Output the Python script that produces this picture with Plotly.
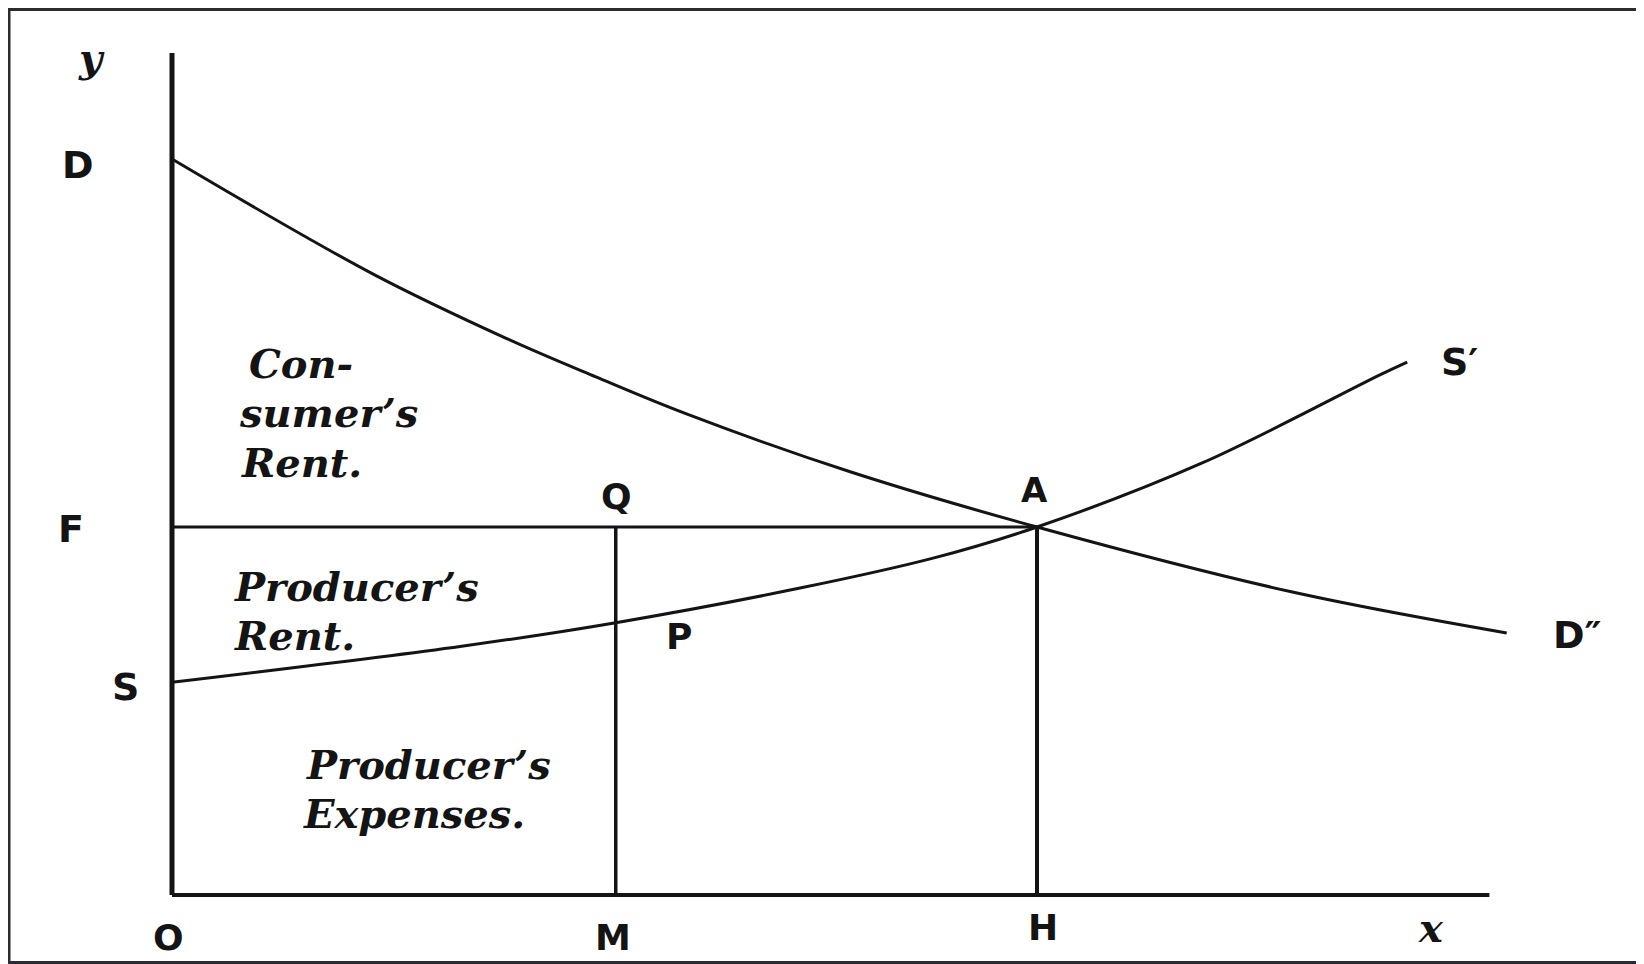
import plotly.graph_objects as go

# ---- data (quantity on x, price on y) ----
# Demand curve D ... D''
demand_q = [0.0, 2.32, 3.87, 4.90, 5.94, 7.84, 10.0, 12.94, 15.43]
demand_p = [10.0, 8.44, 7.56, 7.04, 6.54, 5.75, 5.00, 4.12, 3.56]
# Supply curve S ... S'
supply_q = [0.0, 3.35, 5.13, 7.26, 8.81, 10.0, 11.91, 13.97, 14.28]
supply_p = [2.89, 3.38, 3.70, 4.17, 4.58, 5.00, 5.87, 7.07, 7.24]

equilibrium_q = 10.0   # OH
equilibrium_p = 5.0    # OF = HA
m_q = 5.13             # OM
axis_x_max = 15.23
axis_y_max = 11.44

# ---- figure geometry (page has an 8px body margin) ----
W, H = 1636, 956
X0, SX = 164.0, 86.5     # pixel of origin inside figure, px per quantity unit
Y0, SY = 887.0, 73.6     # pixel of origin inside figure, px per price unit
x_range = [-X0 / SX, (W - X0) / SX]
y_range = [-(H - Y0) / SY, Y0 / SY]

INK = "#141414"

fig = go.Figure()

def seg(xs, ys, width, shape="linear"):
    fig.add_trace(go.Scatter(x=xs, y=ys, mode="lines",
                             line=dict(color=INK, width=width, shape=shape, smoothing=1.0),
                             hoverinfo="skip", showlegend=False))

# axes
seg([0, 0], [0, axis_y_max], 5)
seg([0, axis_x_max], [0, 0], 4)
# curves
seg(demand_q, demand_p, 3, "spline")
seg(supply_q, supply_p, 3, "spline")
# F line to A
seg([0, equilibrium_q], [equilibrium_p, equilibrium_p], 3)
# verticals MQ and HA
seg([m_q, m_q], [0, equilibrium_p], 3.5)
seg([equilibrium_q, equilibrium_q], [0, equilibrium_p], 4)

SANS = "DejaVu Sans"
SERIF = "DejaVu Serif"

def lab(text, q, p, size, family=SANS, italic=False, xanchor="center", yanchor="middle"):
    fig.add_annotation(x=q, y=p, text=text, showarrow=False,
                       xanchor=xanchor, yanchor=yanchor, borderpad=0,
                       font=dict(family=family, size=size, color=INK, weight="bold",
                                 style="italic" if italic else "normal"))

# point labels
lab("y", -0.93, 11.38, 40, SERIF, italic=True)
lab("D", -1.087, 9.92, 38)
lab("F", -1.168, 4.97, 38)
lab("S", -0.532, 2.83, 38)
lab("O", -0.046, -0.571, 36)
lab("M", 5.10, -0.571, 36)
lab("H", 10.07, -0.448, 36)
lab("x", 14.55, -0.435, 40, SERIF, italic=True)
lab("Q", 5.14, 5.41, 36)
lab("P", 5.86, 3.51, 36)
lab("A", 9.97, 5.50, 34)
lab("S\u2032", 14.89, 7.24, 38)
lab("D\u2033", 16.25, 3.53, 38)

# area captions
TS = 40
lab("Con-", 0.879, 7.215, TS, SERIF, italic=True, xanchor="left")
lab("sumer\u2019s", 0.763, 6.549, TS, SERIF, italic=True, xanchor="left")
lab("Rent.", 0.786, 5.883, TS, SERIF, italic=True, xanchor="left")
lab("Producer\u2019s", 0.705, 4.192, TS, SERIF, italic=True, xanchor="left")
lab("Rent.", 0.705, 3.526, TS, SERIF, italic=True, xanchor="left")
lab("Producer\u2019s", 1.54, 1.773, TS, SERIF, italic=True, xanchor="left")
lab("Expenses.", 1.50, 1.107, TS, SERIF, italic=True, xanchor="left")

# outer frame of the picture
fig.add_shape(type="rect", xref="paper", yref="paper",
              x0=1 / W, x1=1634 / W, y0=1.5 / H, y1=1 - 1.5 / H,
              line=dict(color="#2b2b33", width=3))

fig.update_layout(
    width=W, height=H,
    margin=dict(l=0, r=0, t=0, b=0),
    paper_bgcolor="white", plot_bgcolor="white",
    showlegend=False, hovermode=False,
    xaxis=dict(range=x_range, visible=False, fixedrange=True),
    yaxis=dict(range=y_range, visible=False, fixedrange=True),
)

fig.write_html("out.html")
